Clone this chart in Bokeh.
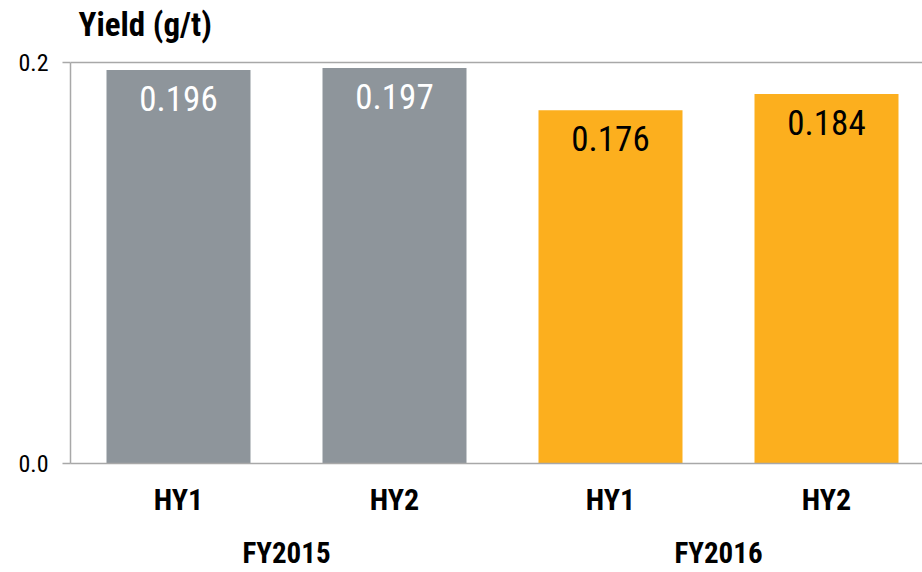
from bokeh.plotting import figure
from bokeh.models import Range1d, FixedTicker, LinearAxis, ColumnDataSource, Label
from bokeh.core.properties import value
from bokeh.embed import file_html
from bokeh.resources import INLINE

# ---- data ----
halves = ["HY1", "HY2", "HY1", "HY2"]
years = ["FY2015", "FY2016"]
yields = [0.196, 0.197, 0.176, 0.184]
value_labels = ["0.196", "0.197", "0.176", "0.184"]
bar_colors = ["#8E959B", "#8E959B", "#FCAF1E", "#FCAF1E"]
label_colors = ["#FFFFFF", "#FFFFFF", "#000000", "#000000"]
y_ticks = [0.0, 0.2]
y_title = "Yield (g/t)"

FONT = "'Roboto Condensed', 'DejaVu Sans Condensed', 'Liberation Sans', sans-serif"
AXIS_GRAY = "#A8A8A8"

H = 572
BOTTOM = 109
TOP_PX = 61.5  # screen position of the top tick
frame_h = H - BOTTOM
y_end = max(y_ticks) * frame_h / (frame_h - TOP_PX)

xs = list(range(len(halves)))
src = ColumnDataSource(dict(x=xs, top=yields, color=bar_colors,
                            lab=value_labels, lcolor=label_colors))

p = figure(width=922, height=H, output_backend="svg", toolbar_location=None,
           x_range=Range1d(-0.5, -0.5 + 852 / 216), y_range=Range1d(0, y_end),
           min_border_left=70, min_border_right=0, min_border_top=0,
           min_border_bottom=BOTTOM, x_axis_location=None, y_axis_location=None)
p.outline_line_color = None
p.background_fill_color = "white"

p.vbar(x="x", top="top", width=144 / 216, bottom=0, color="color", source=src,
       line_color=None)
p.text(x="x", y="top", text="lab", text_color="lcolor", source=src,
       text_align="center", text_baseline="top", y_offset=16,
       text_font=value(FONT), text_font_size="35px")

# y axis
ya = LinearAxis(ticker=FixedTicker(ticks=y_ticks), bounds=(min(y_ticks), max(y_ticks)))
ya.major_label_overrides = {0.0: "0.0", 0.2: "0.2"}
ya.axis_line_color = AXIS_GRAY
ya.axis_line_width = 1.5
ya.major_tick_line_color = AXIS_GRAY
ya.major_tick_line_width = 1.5
ya.major_tick_out = 8
ya.major_tick_in = 0
ya.minor_tick_line_color = None
ya.major_label_text_font = FONT
ya.major_label_text_font_size = "24px"
ya.major_label_text_color = "#000000"
ya.major_label_standoff = 14
p.add_layout(ya, "left")

# x axis: halves
xa = LinearAxis(ticker=FixedTicker(ticks=xs))
xa.major_label_overrides = {i: h for i, h in zip(xs, halves)}
xa.axis_line_color = AXIS_GRAY
xa.axis_line_width = 1.5
xa.major_tick_line_color = None
xa.minor_tick_line_color = None
xa.major_label_text_font = FONT
xa.major_label_text_font_style = "bold"
xa.major_label_text_font_size = "30px"
xa.major_label_text_color = "#000000"
xa.major_label_standoff = 12
p.add_layout(xa, "below")

# x axis: years
year_pos = [0.5, 2.5]
xb = LinearAxis(ticker=FixedTicker(ticks=year_pos))
xb.major_label_overrides = {pos: y for pos, y in zip(year_pos, years)}
xb.axis_line_color = None
xb.major_tick_line_color = None
xb.minor_tick_line_color = None
xb.major_label_text_font = FONT
xb.major_label_text_font_style = "bold"
xb.major_label_text_font_size = "29px"
xb.major_label_text_color = "#000000"
xb.major_label_standoff = 10
p.add_layout(xb, "below")

p.xgrid.visible = False
p.ygrid.ticker = FixedTicker(ticks=[max(y_ticks)])
p.ygrid.grid_line_color = AXIS_GRAY
p.ygrid.grid_line_width = 1.5

title = Label(x=-0.5, y=max(y_ticks), x_offset=8, y_offset=38, text=y_title,
              text_font=FONT, text_font_style="bold", text_font_size="33px",
              text_color="#000000", text_baseline="alphabetic", text_align="left")
p.add_layout(title)

open("out.html", "w").write(file_html(p, INLINE))
